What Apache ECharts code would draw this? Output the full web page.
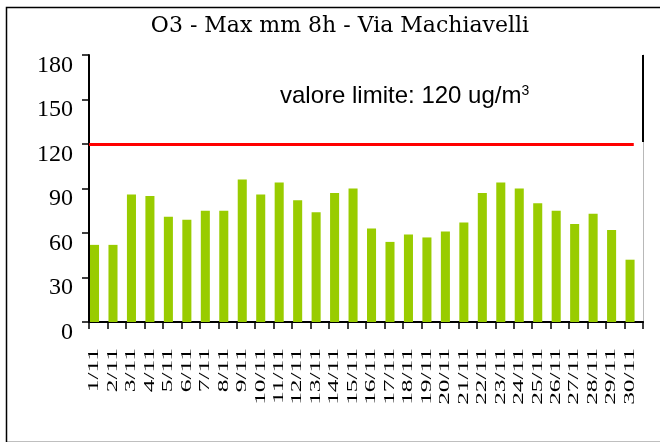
<!DOCTYPE html>
<html>
<head>
<meta charset="utf-8">
<title>O3 - Max mm 8h - Via Machiavelli</title>
<script src="https://cdn.jsdelivr.net/npm/echarts@6/dist/echarts.min.js"></script>
<style>
  html, body { margin: 0; padding: 0; background: #fff; }
  #chart { width: 660px; height: 442px; }
</style>
</head>
<body>
<div id="chart"></div>
<script>
// Daily maximum of the 8-hour running mean of ozone, November
const days = ['1/11','2/11','3/11','4/11','5/11','6/11','7/11','8/11','9/11','10/11',
              '11/11','12/11','13/11','14/11','15/11','16/11','17/11','18/11','19/11','20/11',
              '21/11','22/11','23/11','24/11','25/11','26/11','27/11','28/11','29/11','30/11'];
const o3 = [52, 52, 86, 85, 71, 69, 75, 75, 96, 86,
            94, 82, 74, 87, 90, 63, 54, 59, 57, 61,
            67, 87, 94, 90, 80, 75, 66, 73, 62, 42];
const limitValue = 120;
const yTicks = [0, 30, 60, 90, 120, 150, 180];

const GRID = { left: 89, top: 55, width: 554, height: 267 };
const BAR_COLOR = '#99CC00';
const SERIF = '"Liberation Serif", "Times New Roman", serif';

const chart = echarts.init(document.getElementById('chart'), null, { renderer: 'canvas' });

// Bars sit in the left half of each category slot
function renderBar(params, api) {
  const idx = api.value(0);
  const top = api.coord([idx, api.value(1)]);
  const base = api.coord([idx, 0]);
  const band = api.size([1, 0])[0];
  return {
    type: 'rect',
    shape: { x: top[0] - band / 2 + 1, y: top[1], width: band * 0.49, height: base[1] - top[1] },
    style: { fill: BAR_COLOR }
  };
}

// Rotated, stretched day labels centred under each bar
function renderDayLabel(params, api) {
  const idx = api.value(0);
  const p = api.coord([idx, 0]);
  const band = api.size([1, 0])[0];
  return {
    type: 'text',
    x: p[0] - band / 2 + 1 + band * 0.245,
    y: p[1] + 26,
    rotation: Math.PI / 2,
    scaleX: 1.75,
    style: {
      text: days[idx],
      font: '14.5px ' + SERIF,
      fill: '#000',
      align: 'right',
      verticalAlign: 'middle'
    }
  };
}

const option = {
  animation: false,
  backgroundColor: '#fff',
  title: {
    text: 'O3 - Max mm 8h - Via Machiavelli',
    left: 335,
    top: 10,
    textAlign: 'center',
    textStyle: { fontFamily: '"DejaVu Serif", serif', fontSize: 22, fontWeight: 'normal', color: '#000' }
  },
  grid: { left: GRID.left, top: GRID.top, width: GRID.width, height: GRID.height, containLabel: false },
  xAxis: [
    {
      type: 'category',
      data: days,
      boundaryGap: true,
      position: 'bottom',
      axisLine: { lineStyle: { color: '#000', width: 2 } },
      axisTick: { show: true, length: 7, interval: 0, alignWithLabel: false, lineStyle: { color: '#000', width: 1.5 } },
      axisLabel: { show: false },
      splitLine: { show: false }
    },
    {
      type: 'category',
      data: days,
      position: 'top',
      axisLine: { lineStyle: { color: '#000', width: 1.5 } },
      axisTick: { show: false },
      axisLabel: { show: false },
      splitLine: { show: false }
    }
  ],
  yAxis: [
    {
      type: 'value',
      min: yTicks[0],
      max: yTicks[yTicks.length - 1],
      interval: yTicks[1] - yTicks[0],
      axisLine: { show: true, lineStyle: { color: '#000', width: 2 } },
      axisTick: { show: true, length: 7, lineStyle: { color: '#000', width: 1.5 } },
      axisLabel: {
        margin: 16,
        fontFamily: SERIF,
        fontSize: 24,
        color: '#000',
        verticalAlign: 'top',
        lineHeight: 21
      },
      splitLine: { show: false }
    },
    {
      type: 'value',
      min: yTicks[0],
      max: yTicks[yTicks.length - 1],
      position: 'right',
      axisLine: { show: true, lineStyle: { color: '#b8b8b8', width: 1 } },
      axisTick: { show: false },
      axisLabel: { show: false },
      splitLine: { show: false }
    }
  ],
  series: [
    {
      name: 'O3',
      type: 'custom',
      xAxisIndex: 0,
      yAxisIndex: 0,
      renderItem: renderBar,
      encode: { x: 0, y: 1 },
      data: o3.map((v, i) => [i, v]),
      z: 2,
      markLine: {
        silent: true,
        symbol: ['none', 'none'],
        label: { show: false },
        lineStyle: { color: '#ff0000', width: 3, type: 'solid' },
        // limit line: from the value axis to the last day
        data: [[
          { yAxis: limitValue, x: GRID.left },
          { coord: [days[days.length - 1], limitValue] }
        ]],
        z: 5
      }
    },
    {
      name: 'giorni',
      type: 'custom',
      xAxisIndex: 0,
      yAxisIndex: 0,
      renderItem: renderDayLabel,
      encode: { x: 0, y: 1 },
      clip: false,
      silent: true,
      data: days.map((d, i) => [i, 0]),
      z: 3
    }
  ],
  graphic: [
    {
      type: 'rect',
      left: 4,
      top: 5,
      shape: { width: 680, height: 435 },
      style: { fill: 'none', stroke: '#000', lineWidth: 1.5 },
      z: 0,
      silent: true
    },
    {
      type: 'text',
      left: 280,
      top: 84,
      style: {
        text: '{t|valore limite: ' + limitValue + ' ug/m}{s|3}',
        rich: {
          t: { fontFamily: '"Liberation Sans", Arial, sans-serif', fontSize: 24, fill: '#000', color: '#000' },
          s: { fontFamily: '"Liberation Sans", Arial, sans-serif', fontSize: 14, fill: '#000', color: '#000', verticalAlign: 'top', lineHeight: 14 }
        }
      },
      z: 10
    }
  ]
};

chart.setOption(option);

// Upper part of the plot's right border is drawn black, down to the limit line
const xRight = GRID.left + GRID.width;
const yTop = chart.convertToPixel({ yAxisIndex: 0 }, yTicks[yTicks.length - 1]);
const yLimit = chart.convertToPixel({ yAxisIndex: 0 }, limitValue);
chart.setOption({
  graphic: [
    {}, {},
    {
      type: 'line',
      shape: { x1: xRight, y1: yTop, x2: xRight, y2: yLimit - 2 },
      style: { stroke: '#000', lineWidth: 2 },
      z: 10,
      silent: true
    }
  ]
});
</script>
</body>
</html>
